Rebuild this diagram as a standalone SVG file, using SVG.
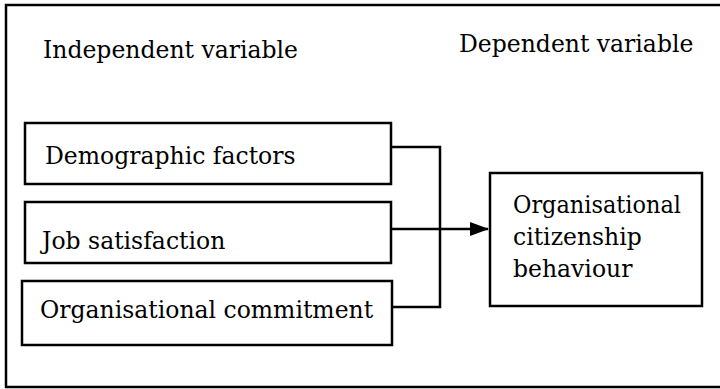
<svg xmlns="http://www.w3.org/2000/svg" width="720" height="389" viewBox="0 0 720 389">
<style>
.box{fill:#fff;stroke:#000;stroke-width:2.5}
.t{font-family:"DejaVu Serif",serif;font-size:23.5px;fill:#000}
.c{fill:none;stroke:#000;stroke-width:2.5}
</style>
<defs>
<marker id="ah" viewBox="0 0 19 14" markerWidth="19" markerHeight="14" refX="18" refY="7" orient="auto" markerUnits="userSpaceOnUse">
<path d="M0,0 L19,7 L0,14 Z" fill="#000"/>
</marker>
</defs>
<rect x="0" y="0" width="720" height="389" fill="#fff"/>
<g id="frame">
<path d="M724,5 L6,5 L6,387 L724,387" class="c"/>
</g>
<g id="labels">
<text class="t" x="43" y="58">Independent variable</text>
<text class="t" x="459" y="52">Dependent variable</text>
</g>
<g id="connectors">
<path class="c" d="M391,147 H440 V307 H393"/>
<path class="c" d="M391,229 H488" marker-end="url(#ah)"/>
</g>
<g id="n1">
<rect class="box" x="25" y="123" width="366" height="61"/>
<text class="t" x="45" y="164">Demographic factors</text>
</g>
<g id="n2">
<rect class="box" x="25" y="202" width="366" height="61"/>
<text class="t" x="42" y="249">Job satisfaction</text>
</g>
<g id="n3">
<rect class="box" x="22" y="281" width="370" height="64"/>
<text class="t" x="40" y="318">Organisational commitment</text>
</g>
<g id="n4">
<rect class="box" x="490" y="173" width="212" height="133"/>
<text class="t" x="513" y="213" textLength="168" lengthAdjust="spacingAndGlyphs">Organisational</text>
<text class="t" x="513" y="245">citizenship</text>
<text class="t" x="513" y="277">behaviour</text>
</g>
</svg>
